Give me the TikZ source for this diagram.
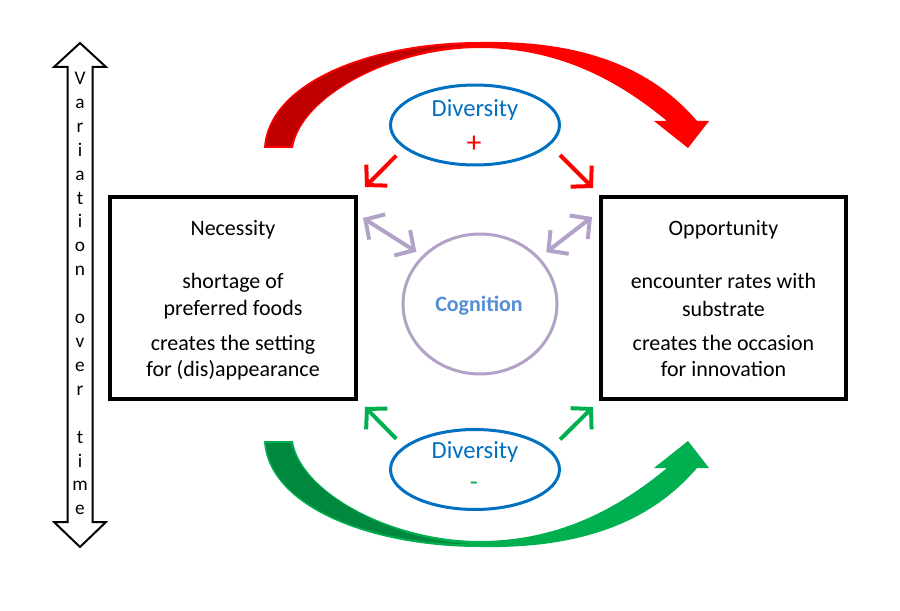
\documentclass[tikz,border=0pt]{standalone}
\usepackage{fontspec}
\setmainfont{Carlito}
\usetikzlibrary{arrows.meta,shapes.geometric}

\definecolor{divblue}{RGB}{0,112,192}
\definecolor{coglilac}{RGB}{179,162,199}
\definecolor{cogblue}{RGB}{85,142,213}
\definecolor{upred}{RGB}{255,0,0}
\definecolor{updark}{RGB}{192,0,0}
\definecolor{downgreen}{RGB}{0,176,80}
\definecolor{downdark}{RGB}{0,136,62}

\begin{document}
\begin{tikzpicture}[x=0.02cm,y=-0.02cm,
	txt/.style={font=\fontsize{12.5}{15}\selectfont, anchor=base},
	letter/.style={font=\fontsize{11}{13}\selectfont, anchor=base},
	bigbox/.style={draw, line width=0.08cm, minimum width=4.92cm, minimum height=4.04cm},
	divbox/.style={ellipse, draw=divblue, line width=0.06cm, fill=white, minimum width=3.38cm, minimum height=1.6cm},
	redar/.style={draw=upred, line width=0.08cm, -{Straight Barb[length=8pt,width=17pt]}},
	greenar/.style={draw=downgreen, line width=0.08cm, -{Straight Barb[length=8pt,width=17pt]}},
	cogar/.style={draw=coglilac, line width=0.08cm, {Straight Barb[length=8pt,width=17pt]}-{Straight Barb[length=8pt,width=17pt]}}]
	\useasboundingbox (0,0) rectangle (900,611);
	% big curved arrows
	\fill[upred] (264,148) .. controls (268,82) and (370,42) .. (480,42)
		.. controls (590,40) and (655,72) .. (697,121) -- (709,121) -- (688,148) -- (654,121) -- (667,121)
		.. controls (620,82) and (560,48) .. (480,48)
		.. controls (390,48) and (300,98) .. (293,148) -- cycle;
	\fill[updark] (266,146) .. controls (270,84) and (370,45) .. (470,45)
		.. controls (385,50) and (302,98) .. (291,146) -- cycle;
	\fill[downgreen] (264,441) .. controls (268,507) and (370,547) .. (480,547)
		.. controls (590,549) and (655,517) .. (697,468) -- (709,468) -- (688,441) -- (654,468) -- (667,468)
		.. controls (620,507) and (560,541) .. (480,541)
		.. controls (390,541) and (300,491) .. (293,441) -- cycle;
	\fill[downdark] (266,443) .. controls (270,505) and (370,544) .. (470,544)
		.. controls (385,539) and (302,491) .. (291,443) -- cycle;
	% time arrow
	\draw[line width=0.04cm, fill=white] (80,43) -- (106,67) -- (92.5,67) -- (92.5,522) -- (106,522) -- (80,547)
		-- (54,522) -- (67.5,522) -- (67.5,67) -- (54,67) -- cycle;
	\foreach \c [count=\i] in {V,a,r,i,a,t,i,o,n,{},o,v,e,r,{},t,i,m,e}
		\node (v\i) [letter] at (80,{84.6+(\i-1)*23.9}) {\c};
	% boxes
	\node (nec) [bigbox] at (233,298) {};
	\node (opp) [bigbox] at (723.5,298) {};
	\node (nec1) [txt] at (233,236) {Necessity};
	\node (nec2) [txt] at (233,289) {shortage of};
	\node (nec3) [txt] at (233,316) {preferred foods};
	\node (nec4) [txt] at (233,351) {creates the setting};
	\node (nec5) [txt] at (233,377) {for (dis)appearance};
	\node (opp1) [txt] at (723.5,236) {Opportunity};
	\node (opp2) [txt] at (723.5,289) {encounter rates with};
	\node (opp3) [txt] at (723.5,317) {substrate};
	\node (opp4) [txt] at (723.5,351) {creates the occasion};
	\node (opp5) [txt] at (723.5,377) {for innovation};
	% middle
	\node (divp) [divbox] at (475,125) {};
	\node (divm) [divbox] at (475,469.5) {};
	\node (divp1) [txt, font=\fontsize{14}{16}\selectfont, text=divblue] at (475,117) {Diversity};
	\node (divp2) [font=\fontsize{17}{19}\selectfont, text=upred] at (474,144) {+};
	\node (divm1) [txt, font=\fontsize{14}{16}\selectfont, text=divblue] at (475,459) {Diversity};
	\node (divm2) [font=\fontsize{15}{17}\selectfont, text=downgreen] at (474,486) {-};
	\node (cog) [ellipse, draw=coglilac, line width=0.06cm, minimum width=3.08cm, minimum height=2.8cm] at (480,304) {};
	\node (cog1) [txt, font=\bfseries\fontsize{12.5}{15}\selectfont, text=cogblue] at (479,312) {Cognition};
	% small arrows
	\coordinate (nectop) at (365,187);
	\coordinate (opptop) at (593,188);
	\coordinate (necbot) at (365,407);
	\coordinate (oppbot) at (593,407);
	\coordinate (necmid) at (363,218);
	\coordinate (oppmid) at (592,217);
	\draw[redar, shorten <=0.21cm] (divp.198) -- (nectop);
	\draw[redar, shorten <=0.28cm] (divp.345) -- (opptop);
	\draw[greenar, shorten <=0.21cm] (divm.162) -- (necbot);
	\draw[greenar, shorten <=0.28cm] (divm.15) -- (oppbot);
	\draw[cogar, shorten <=0.14cm] (cog.140) -- (necmid);
	\draw[cogar, shorten <=0.17cm] (cog.38) -- (oppmid);
\end{tikzpicture}
\end{document}
